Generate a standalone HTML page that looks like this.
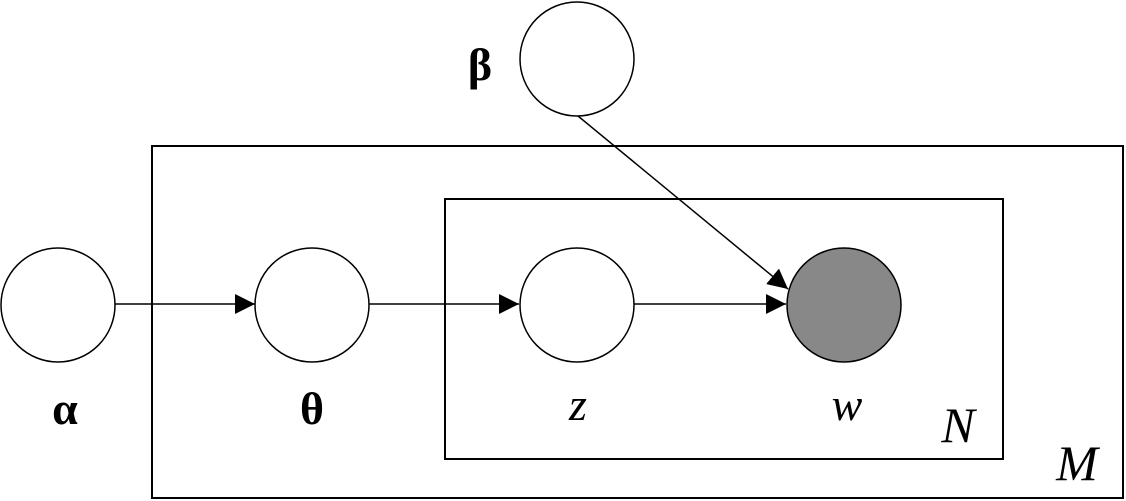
<!DOCTYPE html>
<html><head><style>html,body{margin:0;padding:0;background:#fff}svg{display:block}text{font-family:"Liberation Serif","DejaVu Serif",serif}</style></head>
<body>
<svg width="1126" height="501" viewBox="0 0 1126 501" xmlns="http://www.w3.org/2000/svg">
<defs><marker id="a" viewBox="0 0 10 10" refX="10" refY="5" markerWidth="20" markerHeight="20" markerUnits="userSpaceOnUse" orient="auto"><path d="M0,0 L10,5 L0,10 z" fill="#000"/></marker></defs>
<rect x="152" y="146" width="971" height="352" fill="none" stroke="#000" stroke-width="2"/>
<rect x="445" y="199" width="558" height="260" fill="none" stroke="#000" stroke-width="2"/>
<g stroke="#000" stroke-width="1.5">
<line x1="115" y1="304" x2="255" y2="304" marker-end="url(#a)"/>
<line x1="369" y1="304" x2="519" y2="304" marker-end="url(#a)"/>
<line x1="634" y1="304" x2="786" y2="304" marker-end="url(#a)"/>
<line x1="578" y1="116" x2="788" y2="289" marker-end="url(#a)"/>
</g>
<g stroke="#000" stroke-width="1.5" fill="#fff">
<circle cx="58" cy="305" r="57"/>
<circle cx="312" cy="305" r="57"/>
<circle cx="577" cy="305" r="57"/>
<circle cx="577" cy="59" r="57"/>
<circle cx="844" cy="305" r="57" fill="#888"/>
</g>
<g font-size="46" text-anchor="middle">
<text x="65" y="424" font-weight="bold">α</text>
<text x="312" y="424" font-weight="bold">θ</text>
<text x="578" y="420" font-style="italic">z</text>
<text x="847" y="420" font-style="italic">w</text>
<text x="958" y="442" font-style="italic" font-size="50">N</text>
<text x="1077" y="480" font-style="italic" font-size="50">M</text>
<text x="480" y="80" font-weight="bold">β</text>
</g>
</svg>
</body></html>
